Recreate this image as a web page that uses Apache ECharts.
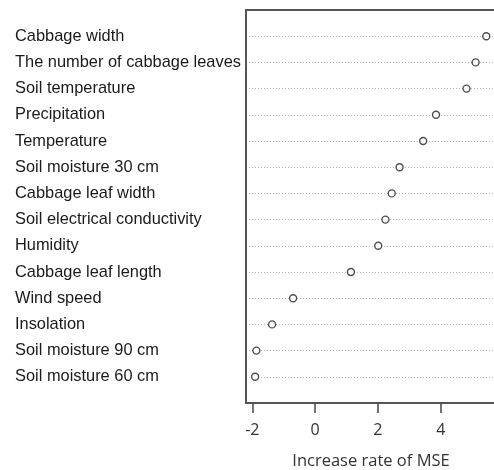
<!DOCTYPE html>
<html>
<head>
<meta charset="utf-8">
<script src="https://cdn.jsdelivr.net/npm/echarts@6/dist/echarts.min.js"></script>
<style>html,body{margin:0;padding:0;background:#fff;}#c{width:494px;height:470px;}</style>
</head>
<body>
<div id="c"></div>
<script>
// Variables listed bottom-to-top (position 1 = bottom row)
const categories = [
  "Soil moisture 60 cm",
  "Soil moisture 90 cm",
  "Insolation",
  "Wind speed",
  "Cabbage leaf length",
  "Humidity",
  "Soil electrical conductivity",
  "Cabbage leaf width",
  "Soil moisture 30 cm",
  "Temperature",
  "Precipitation",
  "Soil temperature",
  "The number of cabbage leaves",
  "Cabbage width"
];
const mseIncrease = [-1.91, -1.87, -1.37, -0.70, 1.14, 2.01, 2.24, 2.44, 2.69, 3.44, 3.85, 4.82, 5.11, 5.45];
const xTicks = [-2, 0, 2, 4];
const xTitle = "Increase rate of MSE";

const positions = categories.map((_, i) => i + 1);
const data = mseIncrease.map((v, i) => [v, positions[i]]);
const X_MIN = -2.2, X_MAX = 5.76;

const chart = echarts.init(document.getElementById('c'), null, {renderer: 'canvas'});
chart.setOption({
  backgroundColor: '#fff',
  animation: false,
  grid: {
    left: 246, top: 10, bottom: 67, right: -2, show: false,
    containLabel: false, outerBoundsMode: 'none'
  },
  xAxis: [{
    type: 'value', min: X_MIN, max: X_MAX, position: 'bottom',
    axisLine: {show: true, onZero: false, lineStyle: {color: '#555', width: 2}},
    splitLine: {show: false},
    axisTick: {show: true, customValues: xTicks, length: 10, inside: false, lineStyle: {color: '#444', width: 1.5}},
    axisLabel: {customValues: xTicks, color: '#333', fontSize: 16, fontFamily: 'Open Sans', margin: 19},
    name: xTitle, nameLocation: 'middle', nameGap: 50,
    nameTextStyle: {color: '#333', fontSize: 16.5, fontFamily: 'Open Sans'}
  }, {
    type: 'value', min: X_MIN, max: X_MAX, position: 'top',
    axisLine: {show: true, onZero: false, lineStyle: {color: '#555', width: 2}},
    splitLine: {show: false}, axisTick: {show: false}, axisLabel: {show: false}
  }],
  yAxis: {
    type: 'value', min: 0, max: 15, interval: 1,
    axisLine: {show: true, onZero: false, lineStyle: {color: '#555', width: 2}},
    axisTick: {show: false},
    splitLine: {show: true, lineStyle: {type: [1, 2], color: '#b5b5b5', width: 1}},
    axisLabel: {
      align: 'left', margin: 231, color: '#1a1a1a', fontSize: 16.4, fontFamily: 'Liberation Sans',
      padding: [6, 0, 0, 0],
      formatter: function (v) { return (v >= 1 && v <= categories.length) ? categories[v - 1] : ''; }
    }
  },
  series: [{
    type: 'scatter',
    data: data,
    symbol: 'circle',
    symbolSize: 7,
    itemStyle: {color: '#fff', borderColor: '#222', borderWidth: 1.4}
  }]
});
</script>
</body>
</html>
